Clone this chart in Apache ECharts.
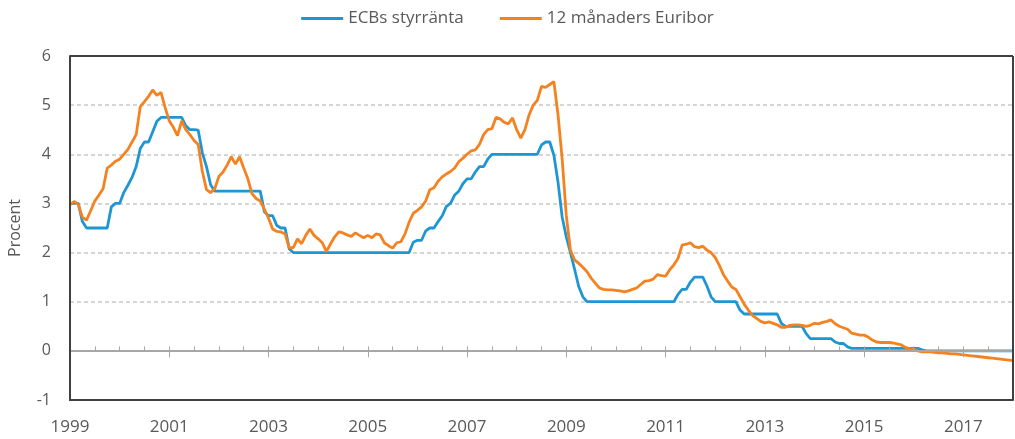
<!DOCTYPE html>
<html>
<head>
<meta charset="utf-8">
<script src="https://cdn.jsdelivr.net/npm/echarts@6/dist/echarts.min.js"></script>
<style>
  html, body { margin: 0; padding: 0; background: #fff; }
  #chart { width: 1015px; height: 439px; }
</style>
</head>
<body>
<div id="chart"></div>
<script>
// månader jan 1999 - jan 2018
var months = [];
for (var y = 1999; y <= 2018; y++) {
  for (var m = 1; m <= 12; m++) {
    if (y === 2018 && m > 1) break;
    months.push(y + '-' + (m < 10 ? '0' + m : m));
  }
}

// ECBs styrränta, månadsmedel
var ecbRate = [
  3.00, 3.00, 3.00, 2.63, 2.50, 2.50, 2.50, 2.50, 2.50, 2.50, 2.93, 3.00, // 1999
  3.00, 3.22, 3.37, 3.53, 3.75, 4.12, 4.25, 4.25, 4.46, 4.67, 4.75, 4.75, // 2000
  4.75, 4.75, 4.75, 4.75, 4.58, 4.50, 4.50, 4.49, 4.03, 3.75, 3.38, 3.25, // 2001
  3.25, 3.25, 3.25, 3.25, 3.25, 3.25, 3.25, 3.25, 3.25, 3.25, 3.25, 2.83, // 2002
  2.75, 2.75, 2.55, 2.50, 2.50, 2.08, 2.00, 2.00, 2.00, 2.00, 2.00, 2.00, // 2003
  2.00, 2.00, 2.00, 2.00, 2.00, 2.00, 2.00, 2.00, 2.00, 2.00, 2.00, 2.00, // 2004
  2.00, 2.00, 2.00, 2.00, 2.00, 2.00, 2.00, 2.00, 2.00, 2.00, 2.00, 2.21, // 2005
  2.25, 2.25, 2.44, 2.50, 2.50, 2.63, 2.75, 2.94, 3.00, 3.17, 3.25, 3.40, // 2006
  3.50, 3.50, 3.64, 3.75, 3.75, 3.90, 4.00, 4.00, 4.00, 4.00, 4.00, 4.00, // 2007
  4.00, 4.00, 4.00, 4.00, 4.00, 4.00, 4.19, 4.25, 4.25, 3.98, 3.43, 2.72, // 2008
  2.32, 2.00, 1.66, 1.31, 1.10, 1.00, 1.00, 1.00, 1.00, 1.00, 1.00, 1.00, // 2009
  1.00, 1.00, 1.00, 1.00, 1.00, 1.00, 1.00, 1.00, 1.00, 1.00, 1.00, 1.00, // 2010
  1.00, 1.00, 1.00, 1.15, 1.25, 1.25, 1.40, 1.50, 1.50, 1.50, 1.32, 1.10, // 2011
  1.00, 1.00, 1.00, 1.00, 1.00, 1.00, 0.83, 0.75, 0.75, 0.75, 0.75, 0.75, // 2012
  0.75, 0.75, 0.75, 0.75, 0.56, 0.50, 0.50, 0.50, 0.50, 0.50, 0.35, 0.25, // 2013
  0.25, 0.25, 0.25, 0.25, 0.25, 0.18, 0.15, 0.15, 0.08, 0.05, 0.05, 0.05, // 2014
  0.05, 0.05, 0.05, 0.05, 0.05, 0.05, 0.05, 0.05, 0.05, 0.05, 0.05, 0.05, // 2015
  0.05, 0.05, 0.02, 0.00, 0.00, 0.00, 0.00, 0.00, 0.00, 0.00, 0.00, 0.00, // 2016
  0.00, 0.00, 0.00, 0.00, 0.00, 0.00, 0.00, 0.00, 0.00, 0.00, 0.00, 0.00, // 2017
  0.00                                                                    // 2018
];

// 12 månaders Euribor
var euribor12m = [
  2.97, 3.04, 2.98, 2.72, 2.66, 2.85, 3.05, 3.17, 3.30, 3.72, 3.78, 3.86, // 1999
  3.90, 4.00, 4.10, 4.25, 4.40, 4.97, 5.07, 5.18, 5.31, 5.20, 5.26, 4.95, // 2000
  4.68, 4.55, 4.38, 4.68, 4.50, 4.40, 4.28, 4.20, 3.65, 3.28, 3.22, 3.30, // 2001
  3.55, 3.64, 3.78, 3.95, 3.80, 3.95, 3.72, 3.50, 3.20, 3.10, 3.05, 2.88, // 2002
  2.70, 2.48, 2.43, 2.42, 2.38, 2.10, 2.10, 2.28, 2.18, 2.35, 2.48, 2.35, // 2003
  2.28, 2.20, 2.02, 2.18, 2.32, 2.42, 2.40, 2.36, 2.33, 2.40, 2.35, 2.30, // 2004
  2.35, 2.30, 2.38, 2.36, 2.20, 2.14, 2.09, 2.20, 2.22, 2.38, 2.62, 2.80, // 2005
  2.86, 2.93, 3.05, 3.28, 3.32, 3.45, 3.54, 3.60, 3.65, 3.72, 3.85, 3.92, // 2006
  4.00, 4.07, 4.09, 4.20, 4.40, 4.50, 4.52, 4.75, 4.72, 4.65, 4.62, 4.74, // 2007
  4.50, 4.33, 4.50, 4.80, 5.00, 5.10, 5.38, 5.36, 5.42, 5.48, 4.80, 3.90, // 2008
  2.75, 2.05, 1.85, 1.78, 1.70, 1.61, 1.48, 1.38, 1.28, 1.25, 1.24, 1.24, // 2009
  1.23, 1.22, 1.20, 1.22, 1.25, 1.28, 1.35, 1.42, 1.43, 1.46, 1.55, 1.53, // 2010
  1.52, 1.65, 1.75, 1.88, 2.15, 2.17, 2.20, 2.12, 2.10, 2.13, 2.05, 2.00, // 2011
  1.90, 1.74, 1.55, 1.42, 1.30, 1.25, 1.10, 0.95, 0.83, 0.72, 0.66, 0.60, // 2012
  0.57, 0.59, 0.56, 0.53, 0.48, 0.48, 0.52, 0.53, 0.53, 0.52, 0.50, 0.52, // 2013
  0.56, 0.55, 0.58, 0.60, 0.63, 0.55, 0.50, 0.47, 0.44, 0.36, 0.34, 0.32, // 2014
  0.32, 0.28, 0.22, 0.18, 0.17, 0.17, 0.17, 0.16, 0.14, 0.12, 0.07, 0.04, // 2015
  0.03, 0.00, -0.02, -0.02, -0.02, -0.03, -0.04, -0.04, -0.05, -0.06, -0.06, -0.07, // 2016
  -0.08, -0.09, -0.10, -0.11, -0.12, -0.13, -0.14, -0.15, -0.16, -0.17, -0.18, -0.19, // 2017
  -0.20                                                                   // 2018
];

var seriesNames = ['ECBs styrränta', '12 månaders Euribor'];
var yTicks = [-1, 6];

// ram, nollinje och halvårsstreck som markLine på första serien
var frameStyle = { color: '#404040', width: 2, type: 'solid' };
var zeroStyle = { color: '#a6a6a6', width: 2, type: 'solid' };
var tickStyle = { color: '#a6a6a6', width: 1, type: 'solid' };
var guideLines = [
  { yAxis: yTicks[0], lineStyle: frameStyle },
  { yAxis: yTicks[1], lineStyle: frameStyle },
  { yAxis: 0, lineStyle: zeroStyle },
  { xAxis: months[0], lineStyle: frameStyle },
  { xAxis: months[months.length - 1], lineStyle: frameStyle }
];
for (var i = 6; i < months.length - 1; i += 6) {
  var major = i % 24 === 0;
  guideLines.push([
    { coord: [months[i], major ? -0.13 : 0], lineStyle: tickStyle },
    { coord: [months[i], 0.09], lineStyle: tickStyle }
  ]);
}

var chart = echarts.init(document.getElementById('chart'));

var option = {
  animation: false,
  textStyle: { fontFamily: '"Open Sans", "Noto Sans", sans-serif' },
  color: ['#1f96d4', '#f58220'],
  legend: {
    top: 5,
    left: 'center',
    icon: 'rect',
    itemWidth: 42,
    itemHeight: 3,
    itemGap: 36,
    textStyle: { color: '#595959', fontSize: 17 },
    data: seriesNames
  },
  grid: {
    left: 70,
    right: 2,
    top: 56,
    bottom: 39,
    outerBoundsMode: 'none',
    containLabel: false
  },
  xAxis: [
    {
      type: 'category',
      data: months,
      boundaryGap: false,
      axisLine: { show: true, onZero: false, lineStyle: { color: '#404040', width: 2 } },
      axisTick: { show: false },
      splitLine: { show: false },
      axisLabel: {
        interval: 23,
        color: '#595959',
        fontSize: 17,
        margin: 19,
        formatter: function (v) { return v.slice(0, 4); }
      }
    }
  ],
  yAxis: [
    {
      type: 'value',
      min: yTicks[0],
      max: yTicks[1],
      interval: 1,
      name: 'Procent',
      nameLocation: 'middle',
      nameGap: 47,
      nameRotate: 90,
      nameTextStyle: { color: '#595959', fontSize: 16 },
      axisLine: { show: true, onZero: false, lineStyle: { color: '#404040', width: 2 } },
      axisTick: { show: false },
      axisLabel: { color: '#595959', fontSize: 16, margin: 19 },
      splitLine: { lineStyle: { color: '#c8c8c8', width: 1.5, type: [4, 3] } }
    }
  ],
  series: [
    {
      name: seriesNames[0],
      type: 'line',
      data: ecbRate,
      symbol: 'none',
      clip: false,
      lineStyle: { width: 2.8 },
      markLine: {
        silent: true,
        animation: false,
        symbol: ['none', 'none'],
        label: { show: false },
        emphasis: { disabled: true },
        data: guideLines
      }
    },
    {
      name: seriesNames[1],
      type: 'line',
      data: euribor12m,
      symbol: 'none',
      lineStyle: { width: 2.8 }
    }
  ]
};

chart.setOption(option);
</script>
</body>
</html>
